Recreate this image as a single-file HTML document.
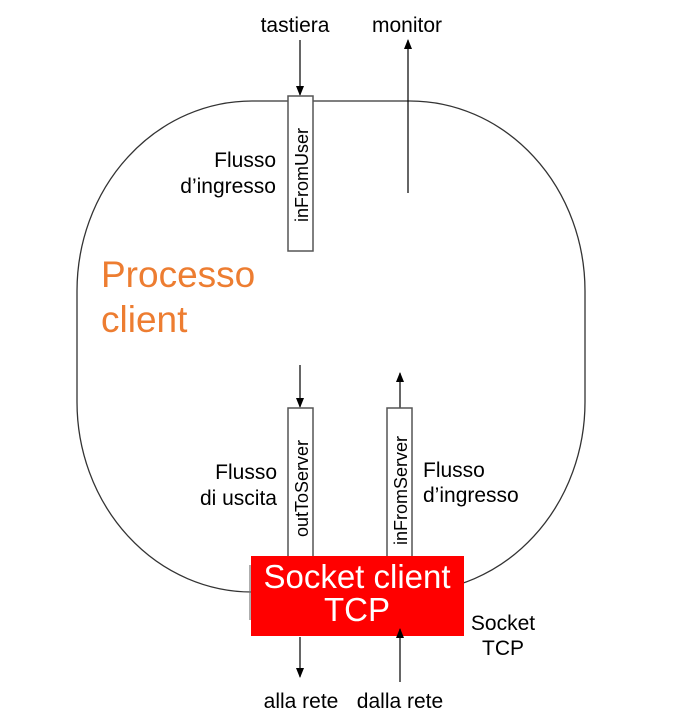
<!DOCTYPE html>
<html><head><style>
body{margin:0;background:#fff}
svg{display:block;font-family:"Liberation Sans",Arial,sans-serif}
</style></head><body>
<svg width="679" height="720" viewBox="0 0 679 720" xmlns="http://www.w3.org/2000/svg">
<defs><marker id="a" markerWidth="10" markerHeight="10" refX="9" refY="5" orient="auto" markerUnits="userSpaceOnUse"><path d="M0,1 L10,5 L0,9 z" fill="#000"/></marker></defs>
<rect x="77" y="101" width="508" height="491" rx="175" ry="190" fill="none" stroke="#333" stroke-width="1.3"/>
<text x="295" y="32" font-size="21" text-anchor="middle">tastiera</text>
<text x="407" y="32" font-size="21" text-anchor="middle">monitor</text>
<line x1="300" y1="40" x2="300" y2="95" stroke="#000" stroke-width="1.2" marker-end="url(#a)"/>
<line x1="408" y1="193" x2="408" y2="40" stroke="#000" stroke-width="1.2" marker-end="url(#a)"/>
<rect x="288" y="96" width="25" height="155" fill="#fff" stroke="#555" stroke-width="1.5"/>
<text transform="translate(308,222) rotate(-90)" font-size="18">inFromUser</text>
<text x="276" y="167" font-size="21" text-anchor="end">Flusso</text>
<text x="276" y="193" font-size="21" text-anchor="end">d’ingresso</text>
<text x="101" y="287" font-size="37" fill="#ed7d31">Processo</text>
<text x="101" y="332" font-size="37" fill="#ed7d31">client</text>
<line x1="300" y1="365" x2="300" y2="407" stroke="#000" stroke-width="1.2" marker-end="url(#a)"/>
<line x1="400" y1="408" x2="400" y2="373" stroke="#000" stroke-width="1.2" marker-end="url(#a)"/>
<rect x="288" y="408" width="25" height="150" fill="#fff" stroke="#555" stroke-width="1.5"/>
<rect x="387" y="408" width="25" height="150" fill="#fff" stroke="#555" stroke-width="1.5"/>
<text transform="translate(308,537) rotate(-90)" font-size="18">outToServer</text>
<text transform="translate(407,545) rotate(-90)" font-size="18">inFromServer</text>
<text x="277" y="479" font-size="21" text-anchor="end">Flusso</text>
<text x="277" y="505" font-size="21" text-anchor="end">di uscita</text>
<text x="423" y="477" font-size="21">Flusso</text>
<text x="423" y="502" font-size="21">d’ingresso</text>
<line x1="250" y1="565" x2="250" y2="620" stroke="#777" stroke-width="1.2"/>
<rect x="251" y="556" width="213" height="80" fill="#ff0000"/>
<text x="357" y="588" font-size="33" fill="#fff" text-anchor="middle">Socket client</text>
<text x="357" y="621" font-size="33" fill="#fff" text-anchor="middle">TCP</text>
<text x="503" y="630" font-size="21" text-anchor="middle">Socket</text>
<text x="503" y="655" font-size="21" text-anchor="middle">TCP</text>
<line x1="300" y1="637" x2="300" y2="677" stroke="#000" stroke-width="1.2" marker-end="url(#a)"/>
<line x1="400" y1="682" x2="400" y2="629" stroke="#000" stroke-width="1.2" marker-end="url(#a)"/>
<text x="301" y="708" font-size="21" text-anchor="middle">alla rete</text>
<text x="400" y="708" font-size="21" text-anchor="middle">dalla rete</text>
</svg>
</body></html>
